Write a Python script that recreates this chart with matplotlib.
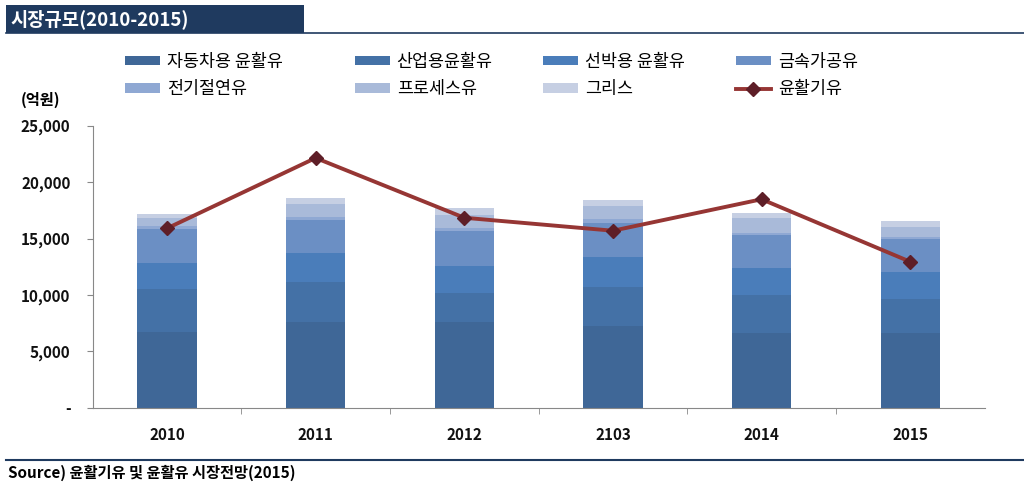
import matplotlib
matplotlib.use("Agg")
import matplotlib.pyplot as plt
from matplotlib.lines import Line2D
from matplotlib.patches import Rectangle
from matplotlib.ticker import FuncFormatter
import numpy as np

plt.rcParams["font.family"] = ["Noto Sans CJK KR", "DejaVu Sans"]

years = ["2010", "2011", "2012", "2103", "2014", "2015"]
series_names = ["자동차용 윤활유", "산업용윤활유", "선박용 윤활유", "금속가공유",
                "전기절연유", "프로세스유", "그리스"]
auto_oil = [6750, 7620, 7620, 7270, 6650, 6600]
industrial = [3750, 3500, 2570, 3460, 3310, 3010]
marine = [2350, 2620, 2370, 2660, 2450, 2450]
metalwork = [3000, 2900, 3100, 3010, 2900, 2870]
insulating = [300, 290, 240, 300, 200, 230]
process = [700, 1130, 1180, 1210, 1280, 890]
grease = [300, 500, 650, 500, 440, 500]
base_oil = [15900, 22140, 16840, 15690, 18480, 12940]
line_name = "윤활기유"

colors = ["#3F6797", "#4471A6", "#4A7DBA", "#6B8FC4", "#8FA8D3", "#A9BAD9", "#C6CFE3"]
NAVY = "#1F3A5F"

fig = plt.figure(figsize=(10.24, 4.92), dpi=100)
ax = fig.add_axes([0.0905, 0.1713, 0.871, 0.5732])

x = np.arange(len(years))
bottom = np.zeros(len(years))
bar_handles = []
for vals, c, name in zip([auto_oil, industrial, marine, metalwork, insulating, process, grease],
                         colors, series_names):
    b = ax.bar(x, vals, width=0.4, bottom=bottom, color=c, edgecolor="none", label=name, zorder=2)
    bar_handles.append(b)
    bottom += np.array(vals)

ln, = ax.plot(x, base_oil, color="#963634", lw=2.8, marker="D", markersize=7,
              markerfacecolor="#5E1E27", markeredgecolor="#5E1E27", zorder=3, label=line_name)

ax.set_xlim(-0.5, len(years) - 0.5)
ax.set_ylim(0, 25000)
ax.set_yticks(range(0, 25001, 5000))
ax.yaxis.set_major_formatter(FuncFormatter(lambda v, p: "-" if v == 0 else f"{v:,.0f}"))
ax.set_xticks(x)
ax.set_xticklabels(years)
ax.set_xticks(np.arange(len(years) - 1) + 0.5, minor=True)
ax.tick_params(axis="x", which="major", length=0, pad=14)
ax.tick_params(axis="x", which="minor", length=4, direction="out", color="#888888")
ax.tick_params(axis="y", length=4, direction="out", color="#888888", pad=12)
for lab in ax.get_xticklabels() + ax.get_yticklabels():
    lab.set_fontsize(11)
    lab.set_fontweight("bold")
    lab.set_color("#111111")
for s in ("top", "right"):
    ax.spines[s].set_visible(False)
ax.spines["left"].set_color("#888888")
ax.spines["bottom"].set_color("#888888")

# legend: four columns placed at fixed positions, two rows each
handles = bar_handles + [ln]
columns = [(0, 4), (1, 5), (2, 6), (3, 7)]
col_left_px = [125, 355, 543, 736]
for (i, j), px in zip(columns, col_left_px):
    fig.legend([handles[i], handles[j]], [handles[i].get_label(), handles[j].get_label()],
               loc="upper left", bbox_to_anchor=(px / 1024, 0.893),
               frameon=False, fontsize=12.5, handlelength=2.0, handleheight=0.5,
               labelspacing=0.55, handletextpad=0.4, borderpad=0, borderaxespad=0)

# header bar
fig.patches.append(Rectangle((0.006, 0.933), 0.291, 0.057, transform=fig.transFigure,
                             facecolor=NAVY, edgecolor="none"))
fig.add_artist(Line2D([0.006, 1.0], [0.933, 0.933], transform=fig.transFigure,
                      color=NAVY, lw=1.2))
fig.text(0.01, 0.961, "시장규모(2010-2015)", color="white", fontsize=13.5,
         fontweight="bold", va="center", ha="left")

fig.text(0.02, 0.797, "(억원)", fontsize=11, fontweight="bold", va="center")

# footer
fig.add_artist(Line2D([0.006, 1.0], [0.065, 0.065], transform=fig.transFigure,
                      color=NAVY, lw=1.5))
fig.text(0.008, 0.038, "Source) 윤활기유 및 윤활유 시장전망(2015)", fontsize=11,
         fontweight="bold", va="center")

fig.savefig("out.png", dpi=100, facecolor="white")
